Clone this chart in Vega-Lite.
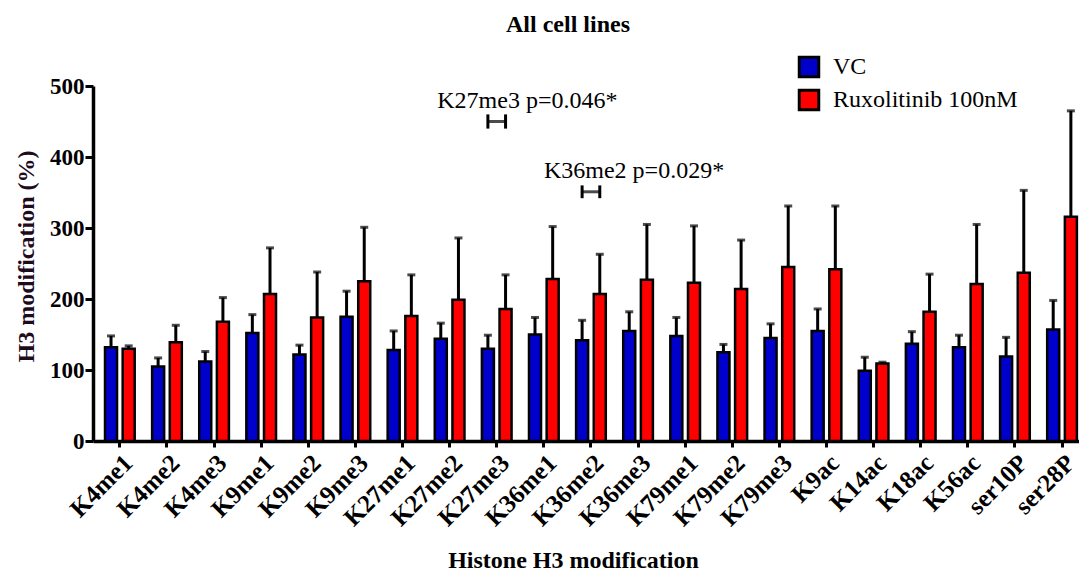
{
  "$schema": "https://vega.github.io/schema/vega-lite/v6.json",
  "width": 986,
  "height": 355,
  "autosize": {"type": "none"},
  "padding": {"left": 93, "top": 86, "right": 0, "bottom": 130},
  "background": "white",
  "config": {"view": {"stroke": null}, "font": "Liberation Serif"},
  "title": {"text": "All cell lines", "font": "Liberation Serif", "fontSize": 24, "fontWeight": "bold", "anchor": "middle", "frame": "group", "offset": 18, "dx": -18, "color": "black"},
  "datasets": {
    "bars": [
      {"mod": "K4me1", "group": "VC", "mean": 132, "upper": 148},
      {"mod": "K4me1", "group": "Ruxolitinib 100nM", "mean": 130, "upper": 134},
      {"mod": "K4me2", "group": "VC", "mean": 105, "upper": 117},
      {"mod": "K4me2", "group": "Ruxolitinib 100nM", "mean": 139, "upper": 163},
      {"mod": "K4me3", "group": "VC", "mean": 112, "upper": 126},
      {"mod": "K4me3", "group": "Ruxolitinib 100nM", "mean": 168, "upper": 202},
      {"mod": "K9me1", "group": "VC", "mean": 152, "upper": 178},
      {"mod": "K9me1", "group": "Ruxolitinib 100nM", "mean": 207, "upper": 272},
      {"mod": "K9me2", "group": "VC", "mean": 122, "upper": 135},
      {"mod": "K9me2", "group": "Ruxolitinib 100nM", "mean": 174, "upper": 238},
      {"mod": "K9me3", "group": "VC", "mean": 175, "upper": 211},
      {"mod": "K9me3", "group": "Ruxolitinib 100nM", "mean": 225, "upper": 301},
      {"mod": "K27me1", "group": "VC", "mean": 128, "upper": 155},
      {"mod": "K27me1", "group": "Ruxolitinib 100nM", "mean": 176, "upper": 234},
      {"mod": "K27me2", "group": "VC", "mean": 144, "upper": 166},
      {"mod": "K27me2", "group": "Ruxolitinib 100nM", "mean": 199, "upper": 286},
      {"mod": "K27me3", "group": "VC", "mean": 130, "upper": 149},
      {"mod": "K27me3", "group": "Ruxolitinib 100nM", "mean": 186, "upper": 234},
      {"mod": "K36me1", "group": "VC", "mean": 150, "upper": 174},
      {"mod": "K36me1", "group": "Ruxolitinib 100nM", "mean": 228, "upper": 302},
      {"mod": "K36me2", "group": "VC", "mean": 142, "upper": 170},
      {"mod": "K36me2", "group": "Ruxolitinib 100nM", "mean": 207, "upper": 263},
      {"mod": "K36me3", "group": "VC", "mean": 155, "upper": 182},
      {"mod": "K36me3", "group": "Ruxolitinib 100nM", "mean": 227, "upper": 305},
      {"mod": "K79me1", "group": "VC", "mean": 148, "upper": 174},
      {"mod": "K79me1", "group": "Ruxolitinib 100nM", "mean": 223, "upper": 303},
      {"mod": "K79me2", "group": "VC", "mean": 125, "upper": 136},
      {"mod": "K79me2", "group": "Ruxolitinib 100nM", "mean": 214, "upper": 283},
      {"mod": "K79me3", "group": "VC", "mean": 145, "upper": 165},
      {"mod": "K79me3", "group": "Ruxolitinib 100nM", "mean": 245, "upper": 331},
      {"mod": "K9ac", "group": "VC", "mean": 155, "upper": 186},
      {"mod": "K9ac", "group": "Ruxolitinib 100nM", "mean": 242, "upper": 331},
      {"mod": "K14ac", "group": "VC", "mean": 99, "upper": 118},
      {"mod": "K14ac", "group": "Ruxolitinib 100nM", "mean": 109, "upper": 111},
      {"mod": "K18ac", "group": "VC", "mean": 137, "upper": 154},
      {"mod": "K18ac", "group": "Ruxolitinib 100nM", "mean": 182, "upper": 235},
      {"mod": "K56ac", "group": "VC", "mean": 132, "upper": 149},
      {"mod": "K56ac", "group": "Ruxolitinib 100nM", "mean": 221, "upper": 305},
      {"mod": "ser10P", "group": "VC", "mean": 119, "upper": 146},
      {"mod": "ser10P", "group": "Ruxolitinib 100nM", "mean": 237, "upper": 353},
      {"mod": "ser28P", "group": "VC", "mean": 157, "upper": 198},
      {"mod": "ser28P", "group": "Ruxolitinib 100nM", "mean": 316, "upper": 465}
    ],
    "brackets": [
      {"mod": "K27me3", "y": 450},
      {"mod": "K36me2", "y": 351}
    ],
    "caps": [
      {"mod": "K27me3", "group": "VC", "lo": 440, "hi": 460},
      {"mod": "K27me3", "group": "Ruxolitinib 100nM", "lo": 440, "hi": 460},
      {"mod": "K36me2", "group": "VC", "lo": 342, "hi": 360},
      {"mod": "K36me2", "group": "Ruxolitinib 100nM", "lo": 342, "hi": 360}
    ]
  },
  "layer": [
    {
      "data": {"name": "bars"},
      "mark": {"type": "bar", "stroke": "black", "strokeWidth": 2.5},
      "encoding": {
        "x": {
          "field": "mod", "type": "nominal", "title": "Histone H3 modification",
          "scale": {"domain": ["K4me1","K4me2","K4me3","K9me1","K9me2","K9me3","K27me1","K27me2","K27me3","K36me1","K36me2","K36me3","K79me1","K79me2","K79me3","K9ac","K14ac","K18ac","K56ac","ser10P","ser28P"], "paddingInner": 0.37, "paddingOuter": 0.15, "align": 0.85},
          "axis": {
            "labelAngle": -45, "labelFont": "Liberation Serif", "labelFontSize": 25, "labelFontWeight": "bold", "labelColor": "black", "labelPadding": 3,
            "tickSize": 6, "tickWidth": 3, "tickColor": "black", "domainColor": "black", "domainWidth": 3.5,
            "titleFont": "Liberation Serif", "titleFontSize": 24, "titleFontWeight": "bold", "titleColor": "black",
            "titleX": 480, "titleY": 126, "titleBaseline": "alphabetic", "titleAlign": "center"
          }
        },
        "xOffset": {"field": "group", "type": "nominal", "scale": {"domain": ["VC", "Ruxolitinib 100nM"], "paddingInner": 0.32, "paddingOuter": 0}},
        "y": {
          "field": "mean", "type": "quantitative", "title": "H3 modification (%)",
          "scale": {"domain": [0, 500], "nice": false},
          "axis": {
            "values": [0, 100, 200, 300, 400, 500], "grid": false,
            "labelFont": "Liberation Serif", "labelFontSize": 23, "labelFontWeight": "bold", "labelColor": "black", "labelPadding": 1,
            "tickSize": 8, "tickWidth": 3, "tickColor": "black", "domainColor": "black", "domainWidth": 3.5,
            "titleFont": "Liberation Serif", "titleFontSize": 24, "titleFontWeight": "bold", "titleColor": "#1e0c1e",
            "titleX": -67, "titleY": 170, "titleBaseline": "middle", "titleAngle": -90
          }
        },
        "color": {
          "field": "group", "type": "nominal",
          "scale": {"domain": ["VC", "Ruxolitinib 100nM"], "range": ["#0000CC", "#FF0000"]},
          "legend": {
            "title": null, "orient": "none", "legendX": 704, "legendY": -31, "padding": 0,
            "symbolType": "square", "symbolSize": 380, "symbolStrokeColor": "black", "symbolStrokeWidth": 3,
            "labelFont": "Liberation Serif", "labelFontSize": 24, "labelColor": "black", "labelOffset": 12, "labelLimit": 0, "rowPadding": 1
          }
        }
      }
    },
    {
      "data": {"name": "bars"},
      "mark": {"type": "rule", "color": "black", "strokeWidth": 3},
      "encoding": {
        "x": {"field": "mod", "type": "nominal", "title": "Histone H3 modification"},
        "xOffset": {"field": "group", "type": "nominal"},
        "y": {"field": "mean", "type": "quantitative", "title": "H3 modification (%)"},
        "y2": {"field": "upper"}
      }
    },
    {
      "data": {"name": "bars"},
      "mark": {"type": "tick", "orient": "horizontal", "color": "black", "size": 8, "thickness": 3},
      "encoding": {
        "x": {"field": "mod", "type": "nominal", "title": "Histone H3 modification"},
        "xOffset": {"field": "group", "type": "nominal"},
        "y": {"field": "upper", "type": "quantitative", "title": "H3 modification (%)"}
      }
    },
    {
      "data": {"name": "brackets"},
      "mark": {"type": "tick", "orient": "horizontal", "color": "black", "size": 18, "thickness": 3},
      "encoding": {
        "x": {"field": "mod", "type": "nominal", "title": "Histone H3 modification"},
        "y": {"field": "y", "type": "quantitative", "title": "H3 modification (%)"}
      }
    },
    {
      "data": {"name": "caps"},
      "mark": {"type": "rule", "color": "black", "strokeWidth": 3},
      "encoding": {
        "x": {"field": "mod", "type": "nominal", "title": "Histone H3 modification"},
        "xOffset": {"field": "group", "type": "nominal"},
        "y": {"field": "lo", "type": "quantitative", "title": "H3 modification (%)"},
        "y2": {"field": "hi"}
      }
    },
    {
      "data": {"values": [{"mod": "K27me3", "y": 469, "label": "K27me3 p=0.046*"}]},
      "mark": {"type": "text", "align": "left", "baseline": "alphabetic", "dx": -59.5, "font": "Liberation Serif", "fontSize": 24, "color": "black"},
      "encoding": {
        "x": {"field": "mod", "type": "nominal", "title": "Histone H3 modification"},
        "y": {"field": "y", "type": "quantitative", "title": "H3 modification (%)"},
        "text": {"field": "label"}
      }
    },
    {
      "data": {"values": [{"mod": "K36me2", "y": 370, "label": "K36me2 p=0.029*"}]},
      "mark": {"type": "text", "align": "left", "baseline": "alphabetic", "dx": -47, "font": "Liberation Serif", "fontSize": 24, "color": "black"},
      "encoding": {
        "x": {"field": "mod", "type": "nominal", "title": "Histone H3 modification"},
        "y": {"field": "y", "type": "quantitative", "title": "H3 modification (%)"},
        "text": {"field": "label"}
      }
    }
  ]
}
